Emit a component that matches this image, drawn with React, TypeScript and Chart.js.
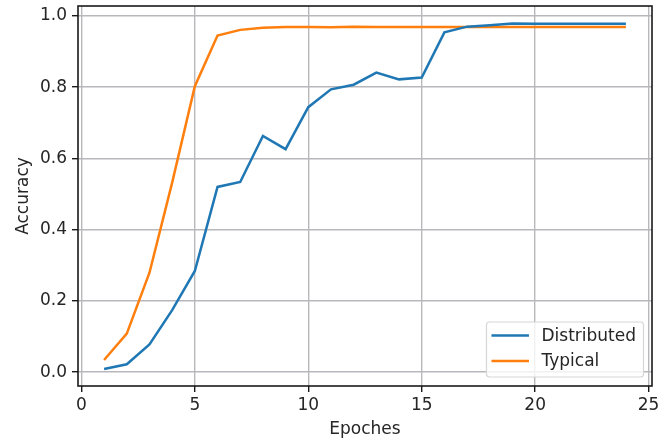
import React, { useEffect, useRef } from "react";
import { Chart, registerables } from "chart.js";

Chart.register(...registerables);

const epochs = [1, 2, 3, 4, 5, 6, 7, 8, 9, 10, 11, 12, 13, 14, 15, 16, 17, 18, 19, 20, 21, 22, 23, 24];
const distributed = [0.009, 0.022, 0.078, 0.174, 0.284, 0.52, 0.534, 0.663, 0.626, 0.744, 0.794, 0.807, 0.841, 0.822, 0.827, 0.954, 0.97, 0.974, 0.979, 0.978, 0.978, 0.978, 0.978, 0.978];
const typical = [0.034, 0.108, 0.279, 0.532, 0.803, 0.945, 0.961, 0.967, 0.969, 0.969, 0.968, 0.97, 0.969, 0.969, 0.969, 0.969, 0.969, 0.969, 0.969, 0.969, 0.969, 0.969, 0.969, 0.969];
const xTicks = [0, 5, 10, 15, 20, 25];
const yTicks = [0, 0.2, 0.4, 0.6, 0.8, 1.0];
const seriesNames = ["Distributed", "Typical"];
const seriesColors = ["#1f77b4", "#ff7f0e"];

const FONT = "DejaVu Sans";
const TEXT = "#262626";
const FS = 17;

const framePlugin = {
  id: "frame",
  afterDraw(chart: any) {
    const { ctx, chartArea: a } = chart;
    ctx.save();
    ctx.strokeStyle = "#1a1a1a";
    ctx.lineWidth = 1.6;
    ctx.strokeRect(a.left, a.top, a.right - a.left, a.bottom - a.top);
    // legend
    ctx.font = `${FS}px "${FONT}"`;
    const names = chart.data.datasets.map((d: any) => d.label);
    const cols = chart.data.datasets.map((d: any) => d.borderColor);
    const tw = Math.max(...names.map((n: string) => ctx.measureText(n).width));
    const handle = 37.5;
    const gap = 12.5;
    const padL = 5;
    const padR = 7.5;
    const rowH = 25.5;
    const w = padL + handle + gap + tw + padR;
    const h = 55;
    const x0 = a.right - 8.5 - w;
    const y0 = a.bottom - 9 - h;
    ctx.beginPath();
    const r = 3;
    ctx.moveTo(x0 + r, y0);
    ctx.arcTo(x0 + w, y0, x0 + w, y0 + h, r);
    ctx.arcTo(x0 + w, y0 + h, x0, y0 + h, r);
    ctx.arcTo(x0, y0 + h, x0, y0, r);
    ctx.arcTo(x0, y0, x0 + w, y0, r);
    ctx.closePath();
    ctx.fillStyle = "rgba(255,255,255,0.8)";
    ctx.fill();
    ctx.strokeStyle = "#d6d6d6";
    ctx.lineWidth = 1.2;
    ctx.stroke();
    names.forEach((n: string, i: number) => {
      const cy = y0 + 13.5 + i * rowH;
      ctx.strokeStyle = cols[i];
      ctx.lineWidth = 2.5;
      ctx.beginPath();
      ctx.moveTo(x0 + padL, cy);
      ctx.lineTo(x0 + padL + handle, cy);
      ctx.stroke();
      ctx.fillStyle = TEXT;
      ctx.textBaseline = "middle";
      ctx.textAlign = "left";
      ctx.fillText(n, x0 + padL + handle + gap, cy + 1);
    });
    ctx.restore();
  },
};

export default function App() {
  const ref = useRef<HTMLCanvasElement>(null);
  useEffect(() => {
    document.body.style.margin = "0";
    const chart = new Chart(ref.current!, {
      type: "line",
      data: {
        datasets: [
          {
            label: seriesNames[0],
            data: epochs.map((e, i) => ({ x: e, y: distributed[i] })),
            borderColor: seriesColors[0],
            backgroundColor: seriesColors[0],
            borderWidth: 2.5,
            pointRadius: 0,
            tension: 0,
          },
          {
            label: seriesNames[1],
            data: epochs.map((e, i) => ({ x: e, y: typical[i] })),
            borderColor: seriesColors[1],
            backgroundColor: seriesColors[1],
            borderWidth: 2.5,
            pointRadius: 0,
            tension: 0,
          },
        ],
      },
      options: {
        animation: false,
        responsive: false,
        maintainAspectRatio: false,
        layout: { padding: { left: 0, top: 6, right: 20, bottom: 0 } },
        plugins: { legend: { display: false }, tooltip: { enabled: false } },
        scales: {
          x: {
            type: "linear",
            min: -0.15,
            max: 25.15,
            afterBuildTicks: (s: any) => {
              s.ticks = xTicks.map((v) => ({ value: v }));
            },
            afterFit: (s: any) => {
              s.height = 57;
              s.paddingLeft = 0;
              s.paddingRight = 0;
            },
            grid: { color: "#b8b8bc", lineWidth: 1.4, tickLength: 6, tickColor: "#1a1a1a", tickWidth: 1.4 },
            border: { display: false },
            ticks: { color: TEXT, font: { family: FONT, size: FS }, padding: 3, maxRotation: 0, autoSkip: false, callback: (v: any) => String(v) },
            title: { display: true, text: "Epoches", color: TEXT, font: { family: FONT, size: FS }, padding: { top: 0, bottom: 3 } },
          },
          y: {
            type: "linear",
            min: -0.039,
            max: 1.028,
            afterBuildTicks: (s: any) => {
              s.ticks = yTicks.map((v) => ({ value: v }));
            },
            afterFit: (s: any) => {
              s.width = 78;
              s.paddingTop = 0;
              s.paddingBottom = 0;
            },
            grid: { color: "#b8b8bc", lineWidth: 1.4, tickLength: 6, tickColor: "#1a1a1a", tickWidth: 1.4 },
            border: { display: false },
            ticks: { color: TEXT, font: { family: FONT, size: FS }, padding: 5, autoSkip: false, callback: (v: any) => Number(v).toFixed(1) },
            title: { display: true, text: "Accuracy", color: TEXT, font: { family: FONT, size: FS }, padding: { top: 13, bottom: 0 } },
          },
        },
      },
      plugins: [framePlugin],
    });
    return () => chart.destroy();
  }, []);
  return (
    <div style={{ width: 672, height: 443, background: "#fff" }}>
      <canvas ref={ref} width={672} height={443} style={{ display: "block", width: 672, height: 443 }} />
    </div>
  );
}
